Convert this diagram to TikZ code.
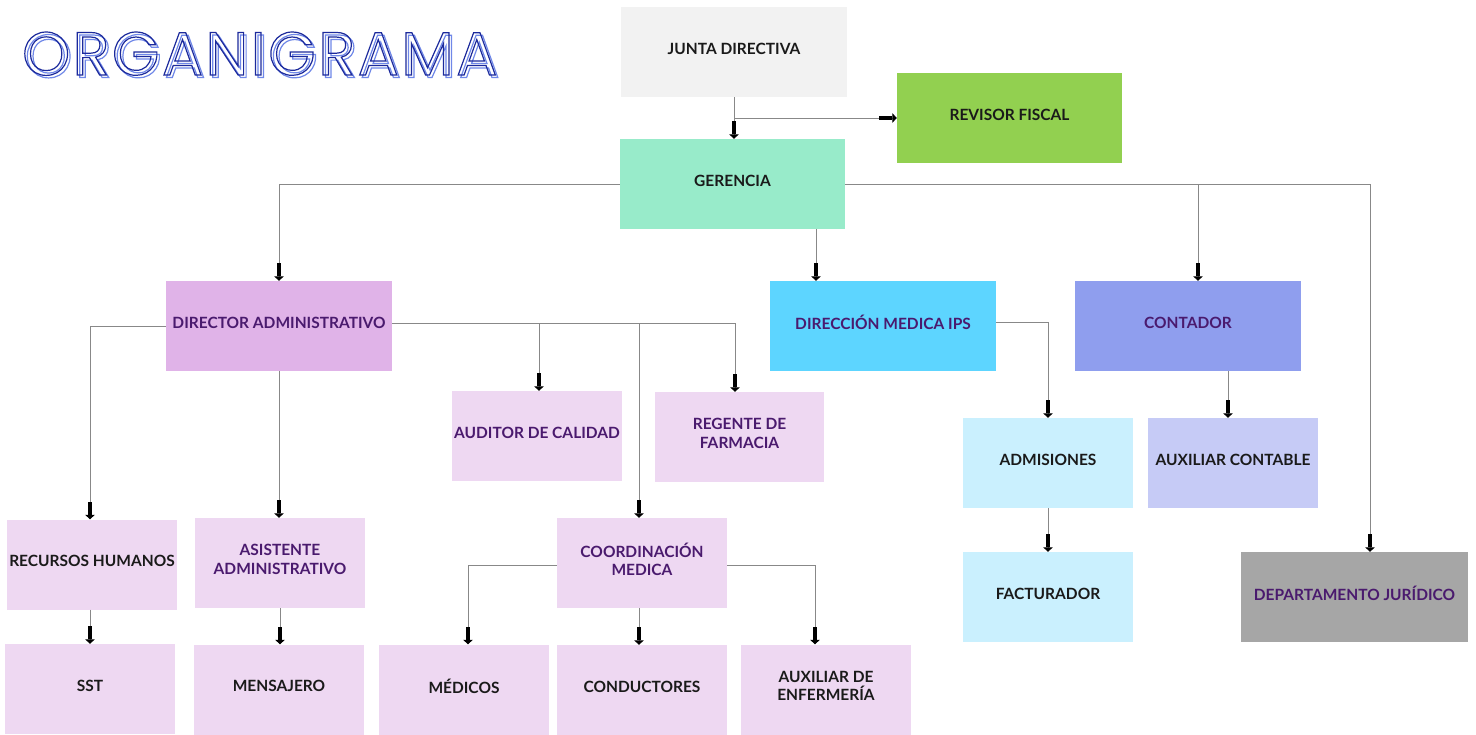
\documentclass[tikz,border=0pt]{standalone}
\usepackage{fontspec}
\setmainfont{Lato}
\newfontfamily\titlefont[LetterSpace=4.0]{Poppins}
\usetikzlibrary{arrows.meta}
\definecolor{cJunta}{HTML}{F2F2F2}
\definecolor{cRevisor}{HTML}{92D050}
\definecolor{cGer}{HTML}{98EBCA}
\definecolor{cDirAdm}{HTML}{E0B3E8}
\definecolor{cDirMed}{HTML}{5DD5FF}
\definecolor{cCont}{HTML}{8F9EEE}
\definecolor{cLilac}{HTML}{EED8F2}
\definecolor{cAdm}{HTML}{CAF0FE}
\definecolor{cAux}{HTML}{C6CBF6}
\definecolor{cJur}{HTML}{A6A6A6}
\definecolor{tPurple}{HTML}{4A1A6E}
\definecolor{tBlack}{HTML}{1A1A1A}
\definecolor{lineGray}{HTML}{888888}
\definecolor{titleBlue}{HTML}{1C2A9C}
\definecolor{titleShadow}{HTML}{7088E8}
\newcommand{\outlineon}[1]{\special{pdf:literal 1 Tr #1 w}}
\newcommand{\outlineoff}{\special{pdf:literal 0 Tr}}
\tikzset{
  box/.style={rectangle, inner sep=0pt, align=center, text depth=7pt,
    font=\bfseries\fontsize{15.5pt}{18.5pt}\selectfont},
  wide/.style={box, minimum width=226pt, minimum height=90pt},
  small/.style={box, minimum width=170pt, minimum height=90pt},
  dark/.style={text=tBlack},
  purp/.style={text=tPurple},
  conn/.style={draw=lineGray, line width=1pt,
    -{Rectangle[length=13pt,width=4.5pt,sep=0pt,color=black]Triangle[length=4.5pt,width=9.5pt,color=black]}},
}
\begin{document}
\begin{tikzpicture}[x=1pt,y=-1pt]
\useasboundingbox[fill=white] (0,0) rectangle (1476,734);
% title
\node[anchor=base west, inner sep=0pt, text=titleShadow, font=\titlefont\fontsize{61pt}{61pt}\selectfont] (titleshadow) at (24.5,77.5) {\outlineon{1.2}ORGANIGRAMA\outlineoff};
\node[anchor=base west, inner sep=0pt, text=titleBlue, font=\titlefont\fontsize{61pt}{61pt}\selectfont] (title) at (22,75) {\outlineon{1.2}ORGANIGRAMA\outlineoff};
% boxes
\node[wide, fill=cJunta, dark] (junta) at (734,52) {JUNTA DIRECTIVA};
\node[box, minimum width=225pt, minimum height=90pt, fill=cRevisor, dark] (revisor) at (1009.5,118) {REVISOR FISCAL};
\node[box, minimum width=225pt, minimum height=90pt, fill=cGer, dark] (gerencia) at (732.5,184) {GERENCIA};
\node[wide, fill=cDirAdm, purp] (diradm) at (279,326) {DIRECTOR ADMINISTRATIVO};
\node[wide, fill=cDirMed, purp] (dirmed) at (883,326) {DIRECCIÓN MEDICA IPS};
\node[wide, fill=cCont, purp] (contador) at (1188,326) {CONTADOR};
\node[small, fill=cLilac, purp] (auditor) at (537,436) {AUDITOR DE CALIDAD};
\node[box, minimum width=169pt, minimum height=90pt, fill=cLilac, purp] (regente) at (739.5,437) {REGENTE DE\\FARMACIA};
\node[small, fill=cAdm, dark] (admisiones) at (1048,463) {ADMISIONES};
\node[small, fill=cAux, dark] (auxcont) at (1233,463) {AUXILIAR CONTABLE};
\node[small, fill=cLilac, dark] (rrhh) at (92,564.5) {RECURSOS HUMANOS};
\node[small, fill=cLilac, purp] (asistente) at (280,563) {ASISTENTE\\ADMINISTRATIVO};
\node[small, fill=cLilac, purp] (coord) at (642,563) {COORDINACIÓN\\MEDICA};
\node[small, fill=cAdm, dark] (facturador) at (1048,597) {FACTURADOR};
\node[box, minimum width=227pt, minimum height=90pt, fill=cJur, purp] (juridico) at (1354.5,597) {DEPARTAMENTO JURÍDICO};
\node[small, fill=cLilac, dark] (sst) at (90,689) {SST};
\node[small, fill=cLilac, dark] (mensajero) at (279,689.5) {MENSAJERO};
\node[small, fill=cLilac, dark] (medicos) at (464,689.5) {MÉDICOS};
\node[small, fill=cLilac, dark] (conductores) at (642,690) {CONDUCTORES};
\node[small, fill=cLilac, dark] (auxenf) at (826,689.5) {AUXILIAR DE\\ENFERMERÍA};
% connectors
\draw[conn] (junta.south) -- (junta.south |- gerencia.north);
\draw[conn] (junta.south |- revisor.west) -- (revisor.west);
\draw[conn] (gerencia.west) -| (diradm.north);
\draw[conn] (gerencia.east) -| ([xshift=10pt]contador.north);
\draw[conn] (gerencia.east) -| ([xshift=15.5pt]juridico.north);
\draw[conn] ([xshift=83.5pt]gerencia.south) -- ([xshift=83.5pt]gerencia.south |- dirmed.north);
\draw[conn] (diradm.west) -| ([xshift=-2pt]rrhh.north);
\draw[conn] (diradm.south) -- (diradm.south |- asistente.north);
\draw[conn] ([yshift=3pt]diradm.east) -| ([xshift=2pt]auditor.north);
\draw[conn] ([yshift=3pt]diradm.east) -| ([xshift=-3pt]coord.north);
\draw[conn] ([yshift=3pt]diradm.east) -| ([xshift=-4.5pt]regente.north);
\draw[conn] ([yshift=4pt]dirmed.east) -| (admisiones.north);
\draw[conn] ([xshift=-5pt]auxcont.north |- contador.south) -- ([xshift=-5pt]auxcont.north);
\draw[conn] (admisiones.south) -- (admisiones.south |- facturador.north);
\draw[conn] ([xshift=-2pt]rrhh.south) -- ([xshift=-2pt]rrhh.south |- sst.north);
\draw[conn] (asistente.south) -- (asistente.south |- mensajero.north);
\draw[conn] ([yshift=-2pt]coord.west) -| ([xshift=4pt]medicos.north);
\draw[conn] ([xshift=-3pt]coord.south) -- ([xshift=-3pt]coord.south |- conductores.north);
\draw[conn] ([yshift=-2pt]coord.east) -| ([xshift=-11pt]auxenf.north);
\end{tikzpicture}
\end{document}
